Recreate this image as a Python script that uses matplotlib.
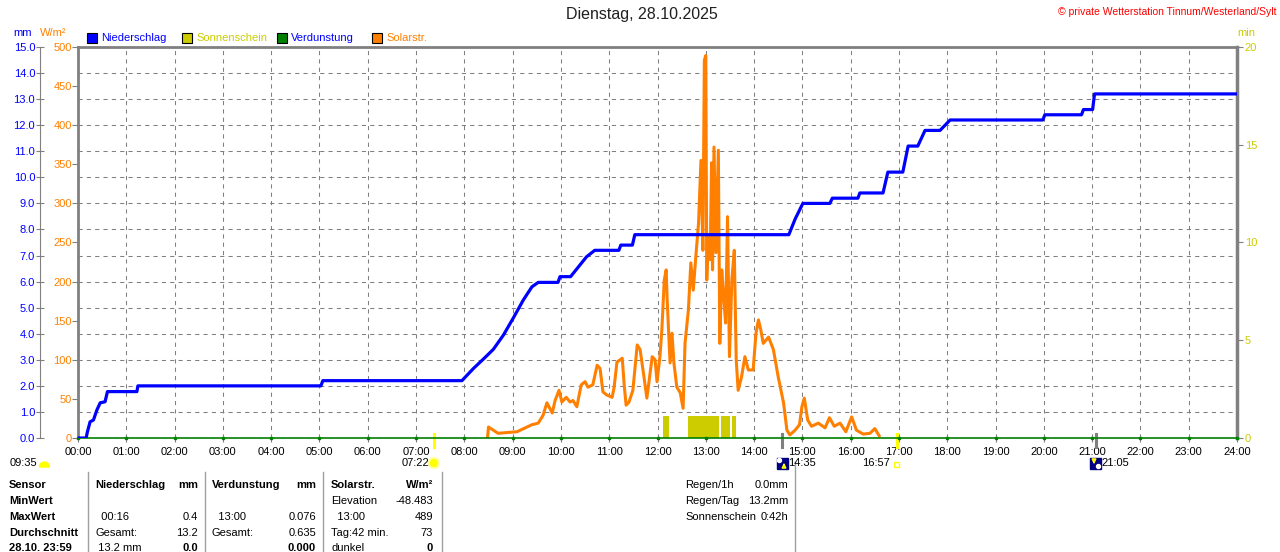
import matplotlib
matplotlib.use("Agg")
import matplotlib.pyplot as plt
import matplotlib.patches as mpatches
import numpy as np

plt.rcParams['font.family'] = ['Liberation Sans', 'DejaVu Sans']
plt.rcParams['font.size'] = 8

# DATA
title = "Dienstag, 28.10.2025"
copyright_text = "\u00a9 private Wetterstation Tinnum/Westerland/Sylt"

hour_ticks = list(range(25))
hour_labels = [f"{h:02d}:00" for h in hour_ticks]
mm_ticks = list(range(16))
wm2_ticks = list(range(0, 501, 50))
min_ticks = [0, 5, 10, 15, 20]

# Niederschlag (cumulative, mm)
rain_hours = [0.00, 0.17, 0.19, 0.25, 0.32, 0.39, 0.46, 0.56, 0.61, 1.22, 1.24,
              5.03, 5.07, 7.95, 8.19, 8.39, 8.60, 8.81, 9.01, 9.22, 9.40, 9.53,
              9.94, 9.98, 10.20, 10.53, 10.70, 11.20, 11.24, 11.48, 11.53,
              14.72, 14.85, 15.01, 15.57, 15.62, 16.15, 16.19, 16.67, 16.77,
              17.08, 17.19, 17.39, 17.54, 17.85, 18.06, 19.98, 20.02, 20.78,
              20.82, 21.01, 21.05, 24.00]
rain_mm = [0.0, 0.0, 0.2, 0.62, 0.69, 1.07, 1.35, 1.39, 1.78, 1.78, 2.0,
           2.0, 2.2, 2.2, 2.67, 3.02, 3.40, 3.95, 4.59, 5.29, 5.80, 5.97,
           5.97, 6.19, 6.19, 6.95, 7.2, 7.2, 7.4, 7.4, 7.8,
           7.8, 8.4, 9.0, 9.0, 9.2, 9.2, 9.4, 9.4, 10.2,
           10.2, 11.2, 11.2, 11.8, 11.8, 12.2, 12.2, 12.4, 12.4,
           12.6, 12.6, 13.2, 13.2]

# Solarstrahlung (W/m2)
solar_hours = [8.48, 8.50, 8.70, 9.09, 9.40, 9.53, 9.63, 9.71, 9.82, 9.88,
               9.96, 10.02, 10.11, 10.19, 10.25, 10.33, 10.42, 10.50, 10.56, 10.66,
               10.75, 10.81, 10.87, 10.95, 11.06, 11.10, 11.16, 11.27, 11.31, 11.35,
               11.41, 11.49, 11.58, 11.64, 11.72, 11.78, 11.82, 11.89, 11.95, 11.99,
               12.05, 12.09, 12.14, 12.18, 12.20, 12.26, 12.30, 12.34, 12.40, 12.47,
               12.53, 12.57, 12.64, 12.69, 12.74, 12.80, 12.85, 12.90, 12.94, 12.97,
               13.00, 13.02, 13.05, 13.09, 13.12, 13.14, 13.17, 13.21, 13.26, 13.29,
               13.33, 13.36, 13.41, 13.45, 13.49, 13.54, 13.59, 13.63, 13.67, 13.74,
               13.81, 13.88, 13.98, 14.04, 14.09, 14.14, 14.19, 14.30, 14.40, 14.50,
               14.61, 14.68, 14.74, 14.85, 14.94, 14.99, 15.04, 15.11, 15.19, 15.33,
               15.47, 15.56, 15.66, 15.78, 15.90, 16.02, 16.12, 16.26, 16.40, 16.50,
               16.59]
solar_wm2 = [0, 14, 6, 8, 17, 19, 29, 45, 32, 48,
             61, 46, 52, 46, 48, 40, 68, 72, 65, 68,
             93, 89, 59, 55, 52, 64, 97, 102, 68, 42,
             46, 61, 119, 113, 78, 51, 70, 104, 100, 72,
             104, 138, 202, 215, 177, 96, 134, 96, 65, 58,
             38, 121, 164, 224, 189, 237, 275, 355, 240, 483,
             489, 202, 257, 228, 352, 215, 372, 237, 368, 121,
             215, 189, 147, 283, 104, 202, 240, 100, 61, 78,
             104, 87, 87, 134, 151, 138, 121, 129, 113, 78,
             45, 10, 4, 10, 17, 40, 51, 23, 15, 19,
             13, 26, 15, 19, 8, 27, 10, 5, 6, 12,
             3]

# Sonnenschein (min)
sun_start = [12.11, 12.64, 13.32, 13.54]
sun_end = [12.24, 13.27, 13.50, 13.63]
sun_min = [1.1, 1.1, 1.1, 1.1]

# Verdunstung (mm), hourly
evap_hours = list(range(25))
evap_mm = [0.0] * 25

day_length = "09:35"
sunrise = "07:22"
sunset = "16:57"
moonrise = "14:35"
moonset = "21:05"

legend_names = ["Niederschlag", "Sonnenschein", "Verdunstung", "Solarstr."]

table_sensor = ["Sensor", "MinWert", "MaxWert", "Durchschnitt", "28.10. 23:59"]
rain_left = ["Niederschlag", "", "  00:16", "Gesamt:", " 13.2 mm"]
rain_right = ["mm", "", "0.4", "13.2", "0.0"]
evap_left = ["Verdunstung", "", "  13:00", "Gesamt:", ""]
evap_right = ["mm", "", "0.076", "0.635", "0.000"]
solar_left = ["Solarstr.", "Elevation", "  13:00", "Tag:42 min.", "dunkel"]
solar_right = ["W/m\u00b2", "-48.483", "489", "73", "0"]
summary_left = ["Regen/1h", "Regen/Tag", "Sonnenschein"]
summary_right = ["0.0mm", "13.2mm", "0:42h"]

# STYLE
BLUE = '#0000FF'
ORANGE = '#FF8000'
SUNC = '#CCCC00'
GREEN = '#008000'
GRAY = '#808080'
W, H = 1280, 552


def to_hours(s):
    h, m = s.split(":")
    return int(h) + int(m) / 60


fig = plt.figure(figsize=(W / 100, H / 100), dpi=100)
rect = [78 / W, (H - 438) / H, 1159 / W, 391 / H]

# mm axis (base, with grid)
ax = fig.add_axes(rect)
ax.set_xlim(0, 24)
ax.set_ylim(0, 15)
ax.set_xticks(hour_ticks)
ax.set_xticklabels(hour_labels)
ax.set_yticks(mm_ticks)
ax.set_yticklabels([f"{v:.1f}" for v in mm_ticks])
ax.grid(True, color=GRAY, lw=0.75, linestyle=(0, (4, 4)))
ax.spines['left'].set_position(('axes', -38 / 1159))
ax.spines['left'].set_color(GRAY)
ax.spines['left'].set_linewidth(0.8)
ax.spines['top'].set_color(GRAY)
ax.spines['top'].set_linewidth(2)
ax.spines['right'].set_visible(False)
ax.spines['bottom'].set_visible(False)
ax.tick_params(axis='y', direction='inout', length=6, color=GRAY,
               labelcolor=BLUE, pad=0.5, labelsize=8)
ax.tick_params(axis='x', direction='out', length=3, color=GRAY,
               labelcolor='black', pad=3.4, labelsize=8)

# sunrise / sunset / moon marks on the time axis
for t, c in [(sunrise, '#FFFF00'), (sunset, '#FFFF00'), (moonrise, GRAY), (moonset, GRAY)]:
    ax.axvline(to_hours(t), ymin=-9 / 391, ymax=4 / 391, color=c, lw=2.2, clip_on=False)

# min axis (right)
ax_min = ax.twinx()
ax_min.set_ylim(0, 20)
ax_min.set_yticks(min_ticks)
for s in ['left', 'top', 'bottom']:
    ax_min.spines[s].set_visible(False)
ax_min.spines['right'].set_color(GRAY)
ax_min.spines['right'].set_linewidth(2.5)
ax_min.tick_params(axis='y', direction='out', length=4, color=GRAY,
                   labelcolor=SUNC, pad=1.5, labelsize=8)
ax_min.bar(sun_start, sun_min, width=np.array(sun_end) - np.array(sun_start),
           align='edge', color=SUNC, lw=0)

# W/m2 axis (left, at plot edge)
ax_w = ax.twinx()
ax_w.set_ylim(0, 500)
ax_w.yaxis.tick_left()
ax_w.set_yticks(wm2_ticks)
for s in ['right', 'top', 'bottom']:
    ax_w.spines[s].set_visible(False)
ax_w.spines['left'].set_visible(True)
ax_w.spines['left'].set_color(GRAY)
ax_w.spines['left'].set_linewidth(2)
ax_w.tick_params(axis='y', direction='out', length=4, color=GRAY,
                 labelcolor=ORANGE, pad=0.5, labelsize=8)
ax_w.plot(solar_hours, solar_wm2, color=ORANGE, lw=2.2)

# rain and evaporation on top
ax_r = fig.add_axes(rect, sharex=ax, sharey=ax)
ax_r.set_axis_off()
ax_r.patch.set_visible(False)
ax_r.plot(evap_hours, evap_mm, color=GREEN, lw=1.2, marker='s', ms=1.5, clip_on=False)
ax_r.plot(rain_hours, rain_mm, color=BLUE, lw=2.3)

ax.set_zorder(1)
ax_min.set_zorder(2)
ax_w.set_zorder(3)
ax_r.set_zorder(4)

# overlay for texts in pixel coordinates
ov = fig.add_axes([0, 0, 1, 1])
ov.set_xlim(0, W)
ov.set_ylim(H, 0)
ov.set_axis_off()
ov.patch.set_visible(False)
ov.set_zorder(10)

ov.text(642, 15, title, ha='center', va='center', fontsize=11.5, color='#202020')
ov.text(1277, 12, copyright_text, ha='right', va='center', fontsize=7.5, color='#FF0000')
ov.text(13, 33, "mm", ha='left', va='center', color=BLUE, fontsize=8)
ov.text(40, 33, "W/m\u00b2", ha='left', va='center', color=ORANGE, fontsize=8)
ov.text(1237, 33, "min", ha='left', va='center', color=SUNC, fontsize=8)

legend_fill = [BLUE, SUNC, GREEN, ORANGE]
legend_txt = [BLUE, SUNC, BLUE, ORANGE]
for i, name in enumerate(legend_names):
    x0 = 87 + i * 95
    ov.add_patch(mpatches.Rectangle((x0, 33), 10, 10, facecolor=legend_fill[i],
                                    edgecolor='black', lw=0.8))
    ov.text(x0 + 14, 38, name, ha='left', va='center', color=legend_txt[i], fontsize=8)

# sun / moon times under the axis
ty = 463
ov.text(10, ty, day_length, ha='left', va='center', fontsize=8)
ov.add_patch(mpatches.Wedge((44.5, 467), 5, 180, 360, color='#FFFF00'))
ov.text(429, ty, sunrise, ha='right', va='center', fontsize=8)
ov.add_patch(mpatches.Circle((434, 463), 5.5, color='#FFFFA8'))
ov.add_patch(mpatches.Circle((434, 463), 3.5, color='#FFFF00'))
ov.text(890, ty, sunset, ha='right', va='center', fontsize=8)
ov.add_patch(mpatches.Rectangle((894, 462), 5, 5, facecolor='none',
                                edgecolor='#FFFF00', lw=1))
ov.add_patch(mpatches.Rectangle((777, 458), 11, 11, color='#000080'))
ov.add_patch(mpatches.Circle((779.5, 460.5), 2, color='white'))
ov.annotate('', xy=(784, 460), xytext=(784, 469),
            arrowprops=dict(arrowstyle='-|>', color='#FFFF00', lw=1.2, mutation_scale=6))
ov.text(788, ty, moonrise, ha='left', va='center', fontsize=8)
ov.add_patch(mpatches.Rectangle((1090, 458), 11, 11, color='#000080'))
ov.add_patch(mpatches.Circle((1098.5, 466.5), 2, color='white'))
ov.annotate('', xy=(1094, 467), xytext=(1094, 458),
            arrowprops=dict(arrowstyle='-|>', color='#FFFF00', lw=1.2, mutation_scale=6))
ov.text(1101, ty, moonset, ha='left', va='center', fontsize=8)

# table
rows_y = [485, 501, 517, 532.5, 548]
for x in [88, 205, 323, 442]:
    ov.plot([x, x], [472, H], color='#A0A0A0', lw=1)
ov.plot([795, 795], [462, H], color='#A0A0A0', lw=1)

for i, y in enumerate(rows_y):
    ov.text(9, y, table_sensor[i], ha='left', va='center', fontweight='bold', fontsize=8)
    head = i == 0
    last = i == len(rows_y) - 1
    for lx, rx, left, right in [(95, 198, rain_left, rain_right),
                                (212, 316, evap_left, evap_right),
                                (331, 433, solar_left, solar_right)]:
        ov.text(lx, y, left[i], ha='left', va='center', fontsize=8,
                fontweight='bold' if head else 'normal')
        ov.text(rx, y, right[i], ha='right', va='center', fontsize=8,
                fontweight='bold' if (head or last) else 'normal')

for i in range(len(summary_left)):
    ov.text(685, rows_y[i], summary_left[i], ha='left', va='center', fontsize=8)
    ov.text(788, rows_y[i], summary_right[i], ha='right', va='center', fontsize=8)

fig.savefig("out.png", dpi=100)
